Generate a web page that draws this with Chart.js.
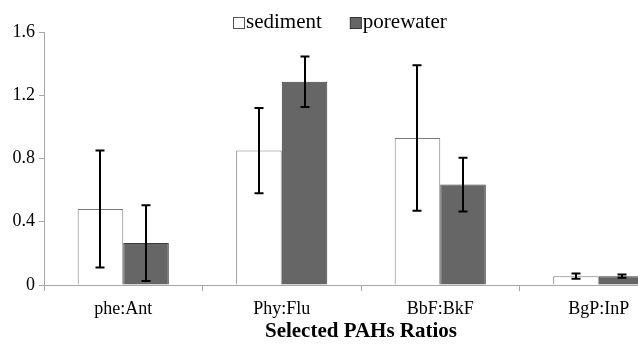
<!DOCTYPE html>
<html>
<head>
<meta charset="utf-8">
<script src="https://cdn.jsdelivr.net/npm/chart.js@4.4.1/dist/chart.umd.min.js"></script>
<style>
    html, body { margin: 0; padding: 0; background: #fff; overflow: hidden; }
    #wrap { width: 680px; height: 344px; position: relative; }
</style>
</head>
<body>
<div id="wrap"><canvas id="chart"></canvas></div>
<script>
// 數據
const categories = ['phe:Ant', 'Phy:Flu', 'BbF:BkF', 'BgP:InP'];
const sediment = [0.48, 0.85, 0.93, 0.056];
const sedimentErr = [0.37, 0.27, 0.46, 0.016];
const porewater = [0.265, 1.285, 0.635, 0.056];
const porewaterErr = [0.24, 0.16, 0.17, 0.01];
const yTicks = [0, 0.4, 0.8, 1.2, 1.6];

const serif = '"Liberation Serif", "Times New Roman", serif';
const axisGrey = '#a6a6a6';

// 誤差線
const errorBars = {
    id: 'errorBars',
    afterDatasetsDraw(chart) {
        const ctx = chart.ctx;
        const yScale = chart.scales.y;
        chart.data.datasets.forEach((ds, i) => {
            const meta = chart.getDatasetMeta(i);
            meta.data.forEach((bar, j) => {
                const v = ds.data[j];
                const e = ds.errors[j];
                const top = yScale.getPixelForValue(v + e);
                const bottom = yScale.getPixelForValue(Math.max(v - e, 0));
                const x = Math.round(bar.x);
                ctx.save();
                ctx.strokeStyle = '#000';
                ctx.lineWidth = 2;
                ctx.beginPath();
                ctx.moveTo(x, top);
                ctx.lineTo(x, bottom);
                ctx.moveTo(x - 4.5, top);
                ctx.lineTo(x + 4.5, top);
                ctx.moveTo(x - 4.5, bottom);
                ctx.lineTo(x + 4.5, bottom);
                ctx.stroke();
                ctx.restore();
            });
        });
    }
};

// 圖例（方塊緊貼文字）
const tightLegend = {
    id: 'tightLegend',
    afterDraw(chart) {
        const ctx = chart.ctx;
        const box = 11, boxGap = 2, itemGap = 28, baseline = 28;
        ctx.save();
        ctx.font = '21px ' + serif;
        const items = chart.data.datasets.map(ds => ({
            ds: ds,
            w: box + boxGap + ctx.measureText(ds.label).width
        }));
        const total = items.reduce((s, it) => s + it.w, 0) + itemGap * (items.length - 1);
        let x = Math.round(chart.width / 2 - total / 2);
        items.forEach(it => {
            ctx.fillStyle = it.ds.backgroundColor;
            ctx.strokeStyle = it.ds.legendBorder;
            ctx.lineWidth = 1;
            ctx.fillRect(x + 0.5, baseline - box + 0.5, box, box);
            ctx.strokeRect(x + 0.5, baseline - box + 0.5, box, box);
            ctx.fillStyle = '#000';
            ctx.textBaseline = 'alphabetic';
            ctx.textAlign = 'left';
            ctx.fillText(it.ds.label, x + box + boxGap, baseline);
            x += it.w + itemGap;
        });
        ctx.restore();
    }
};

new Chart(document.getElementById('chart'), {
    type: 'bar',
    data: {
        labels: categories,
        datasets: [{
            label: 'sediment',
            data: sediment,
            errors: sedimentErr,
            backgroundColor: '#ffffff',
            borderColor: '#7a7a7a',
            legendBorder: '#555555',
            borderWidth: 1
        }, {
            label: 'porewater',
            data: porewater,
            errors: porewaterErr,
            backgroundColor: '#666666',
            borderColor: '#3c3c3c',
            legendBorder: '#333333',
            borderWidth: 1
        }]
    },
    options: {
        responsive: true,
        maintainAspectRatio: false,
        animation: false,
        layout: { padding: { top: 32, right: 2, bottom: 0, left: 0 } },
        datasets: {
            bar: { categoryPercentage: 0.575, barPercentage: 1 }
        },
        plugins: {
            legend: { display: false },
            tooltip: { enabled: false }
        },
        scales: {
            x: {
                offset: true,
                grid: {
                    offset: true,
                    drawOnChartArea: false,
                    drawTicks: true,
                    tickLength: 6,
                    color: axisGrey
                },
                border: { color: axisGrey, width: 1 },
                ticks: {
                    font: { family: serif, size: 18 },
                    color: '#000',
                    padding: 7
                },
                title: {
                    display: true,
                    text: 'Selected PAHs Ratios',
                    font: { family: serif, size: 21, weight: 'bold' },
                    color: '#000',
                    padding: { top: 4, bottom: 0 }
                },
                afterFit(scale) { scale.height = 59; }
            },
            y: {
                min: 0,
                max: 1.6,
                afterBuildTicks(scale) {
                    scale.ticks = yTicks.map(v => ({ value: v }));
                },
                grid: {
                    drawOnChartArea: false,
                    drawTicks: true,
                    tickLength: 5,
                    color: axisGrey
                },
                border: { color: axisGrey, width: 1 },
                ticks: {
                    font: { family: serif, size: 18 },
                    color: '#000',
                    padding: 4,
                    callback: v => String(v)
                },
                afterFit(scale) { scale.width = 44; }
            }
        }
    },
    plugins: [errorBars, tightLegend]
});
</script>
</body>
</html>
